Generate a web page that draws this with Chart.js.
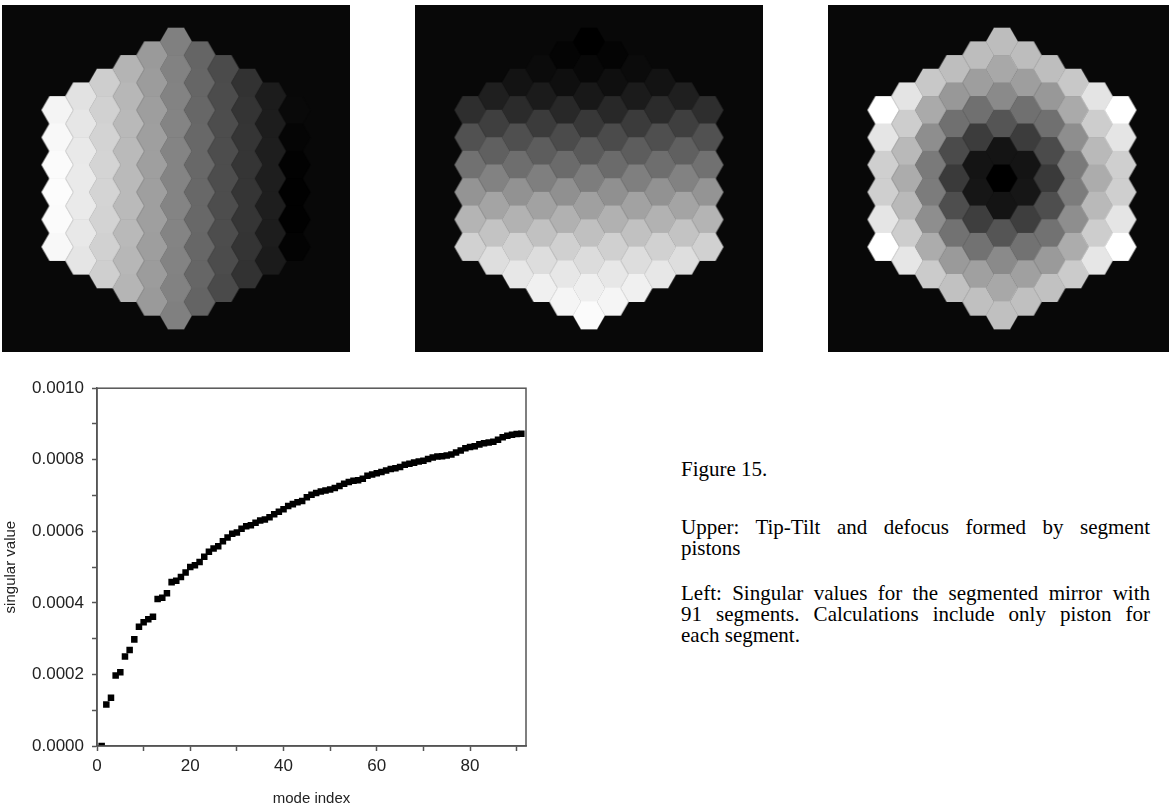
<!DOCTYPE html>
<html>
<head>
<meta charset="utf-8">
<script src="https://cdn.jsdelivr.net/npm/chart.js@4"></script>
<style>
  html, body { margin: 0; padding: 0; background: #fff; width: 1169px; height: 805px; overflow: hidden; position: relative; }
  canvas { position: absolute; }
  .cap {
    position: absolute; left: 681px; width: 469px;
    font-family: "Liberation Serif", "Times New Roman", serif;
    font-size: 21px; line-height: 21px; color: #000;
  }
  .cap div { white-space: nowrap; }
  .cap .j { text-align: justify; text-align-last: justify; white-space: normal; }
</style>
</head>
<body>
<canvas id="tip" width="348" height="347" style="left:2px;top:5px"></canvas>
<canvas id="tilt" width="348" height="347" style="left:415px;top:5px"></canvas>
<canvas id="focus" width="348" height="347" style="left:828px;top:5px"></canvas>
<canvas id="svd" width="545" height="440" style="left:0px;top:370px"></canvas>
<div class="cap" style="top:459px"><div>Figure 15.</div></div>
<div class="cap" style="top:517px">
  <div class="j">Upper: Tip-Tilt and defocus formed by segment</div>
  <div>pistons</div>
</div>
<div class="cap" style="top:583px">
  <div class="j">Left: Singular values for the segmented mirror with</div>
  <div class="j">91 segments. Calculations include only piston for</div>
  <div>each segment.</div>
</div>
<script>
// singular values, one per mode
const modeIndex = Array.from({ length: 91 }, (_, i) => i + 1);
const singularValues = [
  0.0000, 0.000116, 0.000135, 0.000197, 0.000206, 0.000250, 0.000268, 0.000298, 0.000333, 0.000346,
  0.000354, 0.000361, 0.000411, 0.000414, 0.000427, 0.000458, 0.000462, 0.000472, 0.000485, 0.000500,
  0.000505, 0.000514, 0.000529, 0.000543, 0.000552, 0.000558, 0.000572, 0.000583, 0.000593, 0.000597,
  0.000607, 0.000614, 0.000617, 0.000624, 0.000630, 0.000633, 0.000639, 0.000648, 0.000655, 0.000662,
  0.000671, 0.000676, 0.000681, 0.000685, 0.000695, 0.000702, 0.000707, 0.000711, 0.000714, 0.000717,
  0.000721, 0.000727, 0.000733, 0.000738, 0.000741, 0.000743, 0.000747, 0.000755, 0.000759, 0.000762,
  0.000766, 0.000770, 0.000774, 0.000776, 0.000780, 0.000786, 0.000789, 0.000792, 0.000795, 0.000797,
  0.000802, 0.000806, 0.000809, 0.000810, 0.000812, 0.000815, 0.000820, 0.000826, 0.000832, 0.000836,
  0.000838, 0.000843, 0.000846, 0.000848, 0.000850, 0.000856, 0.000863, 0.000867, 0.000870, 0.000872,
  0.000873
];
const yTicks = [0, 0.0002, 0.0004, 0.0006, 0.0008, 0.0010];
const xTicks = [0, 20, 40, 60, 80];

// segment columns of the 91-segment mirror, left to right
const columns = [-5, -4, -3, -2, -1, 0, 1, 2, 3, 4, 5];

// grey level (0-255) of every segment, per column, top to bottom
const tipGray = [
  [244, 248, 251, 252, 251, 248],
  [226, 230, 233, 234, 234, 232, 229],
  [206, 209, 211, 212, 212, 211, 209, 207],
  [180, 183, 185, 186, 186, 186, 185, 183, 181],
  [154, 156, 158, 159, 159, 159, 159, 158, 156, 154],
  [128, 130, 131, 132, 132, 132, 132, 132, 131, 130, 128],
  [101, 102, 103, 104, 104, 104, 104, 103, 102, 100],
  [75, 76, 77, 77, 77, 77, 77, 76, 74],
  [50, 52, 53, 53, 53, 53, 52, 50],
  [28, 29, 30, 30, 30, 29, 27],
  [9, 5, 2, 1, 1, 3]
];
const tiltGray = [
  [46, 81, 113, 148, 180, 209],
  [31, 63, 96, 130, 164, 195, 222],
  [19, 43, 79, 110, 146, 178, 209, 231],
  [11, 27, 59, 93, 127, 162, 193, 221, 240],
  [4, 15, 40, 75, 107, 144, 177, 208, 231, 245],
  [0, 8, 24, 56, 90, 125, 160, 192, 220, 239, 251],
  [4, 15, 40, 75, 107, 144, 177, 208, 231, 245],
  [11, 27, 59, 93, 127, 162, 193, 221, 240],
  [19, 43, 79, 110, 146, 178, 209, 231],
  [31, 63, 96, 130, 164, 195, 222],
  [46, 81, 113, 148, 180, 209]
];
const focusGray = [
  [255, 229, 207, 207, 229, 255],
  [228, 205, 185, 172, 185, 205, 230],
  [200, 170, 142, 122, 124, 142, 172, 203],
  [190, 152, 112, 75, 58, 78, 114, 154, 193],
  [189, 158, 112, 60, 20, 22, 62, 114, 160, 192],
  [189, 168, 138, 85, 20, 0, 20, 85, 138, 168, 192],
  [189, 158, 112, 60, 20, 22, 62, 114, 160, 192],
  [190, 152, 112, 75, 58, 78, 114, 154, 193],
  [200, 170, 142, 122, 124, 142, 172, 203],
  [228, 205, 185, 172, 185, 205, 230],
  [255, 229, 207, 207, 229, 255]
];

const HEX_PX = 15.8; // pixels per hex unit

// hex lattice position of each segment (flat-top hexagons)
function segments(grays) {
  const pts = [];
  columns.forEach((q, c) => {
    grays[c].forEach((g, i) => {
      pts.push({ x: 1.5 * q, y: Math.sqrt(3) * (5 - Math.abs(q) / 2 - i), g: g });
    });
  });
  return pts;
}

const hexCache = {};
function hexStyle(ctx) {
  const g = ctx.raw.g;
  const sx = ctx.chart.scales.x;
  const r = Math.abs(sx.getPixelForValue(1) - sx.getPixelForValue(0));
  const key = g + "_" + r.toFixed(2);
  if (!hexCache[key]) {
    const c = document.createElement("canvas");
    c.width = Math.ceil(2 * r) + 2;
    c.height = Math.ceil(Math.sqrt(3) * r) + 2;
    const cx = c.getContext("2d");
    cx.fillStyle = "rgb(" + g + "," + g + "," + g + ")";
    cx.beginPath();
    for (let k = 0; k < 6; k++) {
      const a = (Math.PI / 3) * k;
      const px = c.width / 2 + (r + 0.3) * Math.cos(a);
      const py = c.height / 2 + (r + 0.3) * Math.sin(a);
      if (k === 0) cx.moveTo(px, py); else cx.lineTo(px, py);
    }
    cx.closePath();
    cx.fill();
    hexCache[key] = c;
  }
  return hexCache[key];
}

const blackBg = {
  id: "blackBg",
  beforeDraw(chart) {
    const c = chart.ctx;
    c.save();
    c.fillStyle = "#080808";
    c.fillRect(0, 0, chart.width, chart.height);
    c.restore();
  }
};

function hexChart(id, grays) {
  const el = document.getElementById(id);
  const halfW = el.width / 2 / HEX_PX;
  const halfH = el.height / 2 / HEX_PX;
  new Chart(el, {
    type: "scatter",
    data: {
      datasets: [{
        data: segments(grays),
        pointStyle: hexStyle,
        pointRadius: 8,
        pointHoverRadius: 8
      }]
    },
    options: {
      responsive: false,
      animation: false,
      devicePixelRatio: 1,
      events: [],
      layout: { padding: 0, autoPadding: false },
      plugins: { legend: { display: false }, tooltip: { enabled: false } },
      scales: {
        x: { type: "linear", min: -halfW, max: halfW, display: false },
        y: { type: "linear", min: -halfH, max: halfH, display: false }
      }
    },
    plugins: [blackBg]
  });
}

hexChart("tip", tipGray);
hexChart("tilt", tiltGray);
hexChart("focus", focusGray);

// box around the plot area
const frame = {
  id: "frame",
  afterDraw(chart) {
    const a = chart.chartArea;
    const c = chart.ctx;
    c.save();
    c.strokeStyle = "#555";
    c.lineWidth = 1.5;
    c.strokeRect(a.left, a.top, a.right - a.left, a.bottom - a.top);
    c.restore();
  }
};

const tickFont = { family: "'Liberation Sans', Arial, sans-serif", size: 17 };
const titleFont = { family: "'Liberation Sans', Arial, sans-serif", size: 15 };

new Chart(document.getElementById("svd"), {
  type: "scatter",
  data: {
    datasets: [{
      label: "singular value",
      data: modeIndex.map((m, i) => ({ x: m, y: singularValues[i] })),
      pointStyle: "rect",
      pointRadius: 4.6,
      backgroundColor: "#000",
      borderWidth: 0
    }]
  },
  options: {
    responsive: false,
    animation: false,
    devicePixelRatio: 1,
    events: [],
    layout: { padding: { top: 15, right: 19, left: 0, bottom: 0 }, autoPadding: false },
    plugins: { legend: { display: false }, tooltip: { enabled: false } },
    scales: {
      x: {
        type: "linear",
        min: 0,
        max: 92,
        afterFit: (s) => { s.height = 64; },
        border: { color: "#555", width: 1.5 },
        grid: { drawOnChartArea: false, drawTicks: true, tickLength: 5, color: "#555", tickWidth: 1.5 },
        ticks: {
          stepSize: 10,
          includeBounds: false,
          autoSkip: false,
          maxRotation: 0,
          padding: 5,
          color: "#222",
          font: tickFont,
          callback: (v) => (xTicks.includes(v) ? String(v) : "")
        },
        title: { display: true, text: "mode index", color: "#222", font: titleFont, padding: { top: 0, bottom: 2 } }
      },
      y: {
        type: "linear",
        min: 0,
        max: 0.001,
        afterFit: (s) => { s.width = 97; },
        border: { color: "#555", width: 1.5 },
        grid: { drawOnChartArea: false, drawTicks: true, tickLength: 5, color: "#555", tickWidth: 1.5 },
        ticks: {
          stepSize: 0.0001,
          autoSkip: false,
          padding: 8,
          color: "#222",
          font: tickFont,
          callback: (v) => {
            const hit = yTicks.find((t) => Math.abs(t - v) < 1e-9);
            return hit === undefined ? "" : hit.toFixed(4);
          }
        },
        title: { display: true, text: "singular value", color: "#222", font: titleFont, padding: { top: 2, bottom: 0 } }
      }
    }
  },
  plugins: [frame]
});
</script>
</body>
</html>
